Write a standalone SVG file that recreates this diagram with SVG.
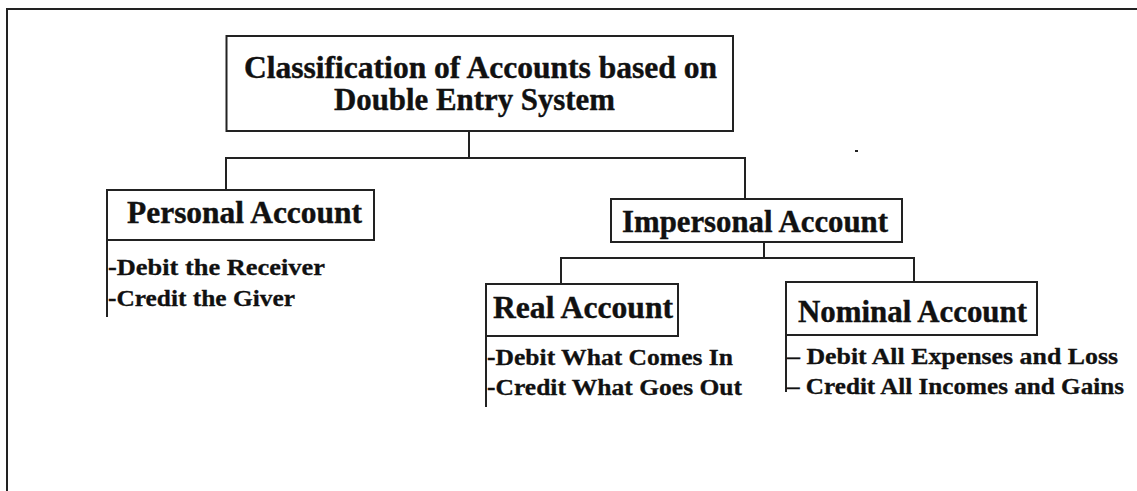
<svg xmlns="http://www.w3.org/2000/svg" width="1137" height="491" viewBox="0 0 1137 491">
  <style>
    .box { fill: #ffffff; stroke: #222222; stroke-width: 2; }
    .wire { fill: none; stroke: #222222; stroke-width: 2; }
    .head { font-family: "Liberation Serif", "Times New Roman", serif; font-weight: bold; font-size: 31px; fill: #111111; stroke: #111111; stroke-width: 0.4; }
    .item { font-family: "Liberation Serif", "Times New Roman", serif; font-weight: bold; font-size: 24px; fill: #111111; stroke: #111111; stroke-width: 0.3; }
  </style>
  <rect width="1137" height="491" fill="#ffffff"/>
  <!-- page frame: top and left rules -->
  <path class="wire" d="M7 491 V9 H1137"/>
  <!-- stray speck -->
  <rect x="855" y="150" width="3" height="2" fill="#222222"/>

  <g id="connectors">
    <path class="wire" d="M469 131 V158"/>
    <path class="wire" d="M226 190 V158 H745 V199"/>
    <path class="wire" d="M764 242 V258"/>
    <path class="wire" d="M561 284 V258 H914 V282"/>
    <path class="wire" d="M107 240 V317"/>
    <path class="wire" d="M486 336 V407"/>
    <path class="wire" d="M786 335 V392"/>
  </g>

  <g id="root">
    <rect class="box" x="226.5" y="36" width="506.5" height="95"/>
    <text class="head" x="244" y="78" textLength="473" lengthAdjust="spacingAndGlyphs">Classification of Accounts based on</text>
    <text class="head" x="334" y="110" textLength="281" lengthAdjust="spacingAndGlyphs">Double Entry System</text>
  </g>

  <g id="personal">
    <rect class="box" x="107" y="190" width="267" height="50"/>
    <text class="head" x="127" y="223" textLength="235" lengthAdjust="spacingAndGlyphs">Personal Account</text>
    <text class="item" x="108" y="275" textLength="217" lengthAdjust="spacingAndGlyphs">-Debit the Receiver</text>
    <text class="item" x="108" y="306" textLength="187" lengthAdjust="spacingAndGlyphs">-Credit the Giver</text>
  </g>

  <g id="impersonal">
    <rect class="box" x="611" y="199" width="291" height="43"/>
    <text class="head" x="622" y="232" textLength="266" lengthAdjust="spacingAndGlyphs">Impersonal Account</text>
  </g>

  <g id="real">
    <rect class="box" x="486" y="284" width="192" height="52"/>
    <text class="head" x="493" y="318" textLength="180" lengthAdjust="spacingAndGlyphs">Real Account</text>
    <text class="item" x="487" y="365" textLength="246" lengthAdjust="spacingAndGlyphs">-Debit What Comes In</text>
    <text class="item" x="487" y="395" textLength="255" lengthAdjust="spacingAndGlyphs">-Credit What Goes Out</text>
  </g>

  <g id="nominal">
    <rect class="box" x="786" y="282" width="251" height="53"/>
    <text class="head" x="798" y="322" textLength="229" lengthAdjust="spacingAndGlyphs">Nominal Account</text>
    <text class="item" x="787" y="364" textLength="331" lengthAdjust="spacingAndGlyphs">– Debit All Expenses and Loss</text>
    <text class="item" x="787" y="394" textLength="337" lengthAdjust="spacingAndGlyphs">– Credit All Incomes and Gains</text>
  </g>
</svg>
